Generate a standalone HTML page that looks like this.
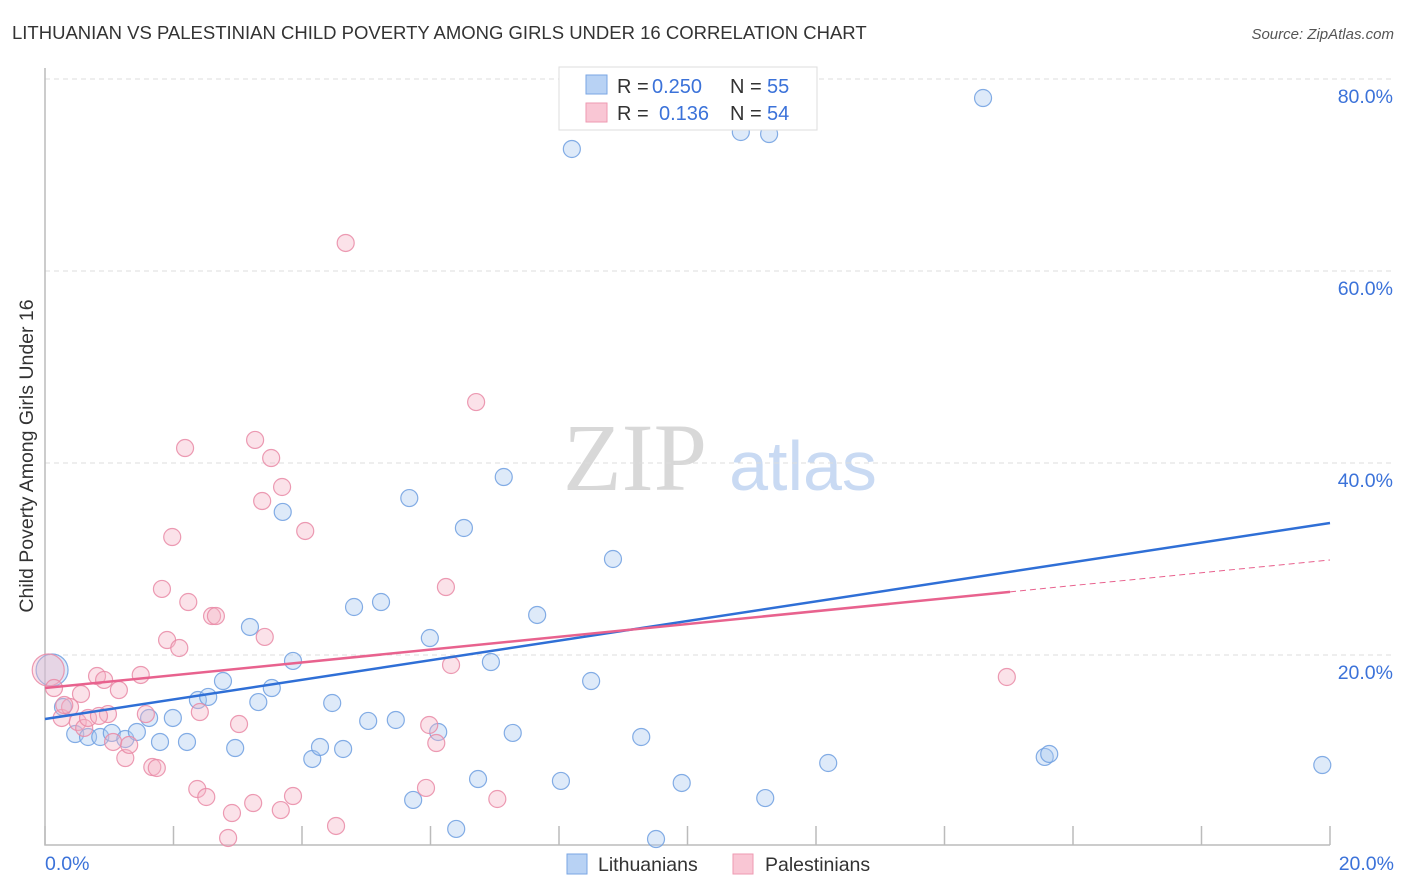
<!DOCTYPE html>
<html><head><meta charset="utf-8"><style>
body{margin:0;background:#fff;font-family:"Liberation Sans",sans-serif;}
svg{display:block}
</style></head><body>
<svg id="chart" width="1406" height="892" xmlns="http://www.w3.org/2000/svg">
<text x="12" y="39" font-size="18.5" fill="#333">LITHUANIAN VS PALESTINIAN CHILD POVERTY AMONG GIRLS UNDER 16 CORRELATION CHART</text>
<text x="1394" y="39" font-size="15" fill="#555" font-style="italic" text-anchor="end">Source: ZipAtlas.com</text>
<g>
<text x="635" y="490" font-size="96" font-family="Liberation Serif,serif" fill="#d8d8d8" text-anchor="middle">ZIP</text>
<text x="803" y="490" font-size="70" fill="#c9daf3" text-anchor="middle">atlas</text>
</g>
<g id="grid"></g>
<g id="axes"></g>
<text transform="translate(33,456) rotate(-90)" font-size="19.5" fill="#333" text-anchor="middle">Child Poverty Among Girls Under 16</text>
<g id="marks"></g>
<g id="trends"></g>
<g>
<rect x="559" y="67" width="258" height="63" fill="#fff" stroke="#ddd"/>
<rect x="586" y="75" width="21" height="19" fill="#b8d2f4" stroke="#7aa6e3"/>
<text x="617" y="93" font-size="20" fill="#333">R =</text>
<text x="652" y="93" font-size="20" fill="#3b72d9">0.250</text>
<text x="730" y="93" font-size="20" fill="#333">N =</text>
<text x="767" y="93" font-size="20" fill="#3b72d9">55</text>
<rect x="586" y="103" width="21" height="19" fill="#f9c6d4" stroke="#ee9ab2"/>
<text x="617" y="120" font-size="20" fill="#333">R =</text>
<text x="659" y="120" font-size="20" fill="#3b72d9">0.136</text>
<text x="730" y="120" font-size="20" fill="#333">N =</text>
<text x="767" y="120" font-size="20" fill="#3b72d9">54</text>
</g>
<g>
<rect x="567" y="854" width="20" height="20" fill="#b8d2f4" stroke="#7aa6e3"/>
<text x="598" y="871" font-size="19.5" fill="#333">Lithuanians</text>
<rect x="733" y="854" width="20" height="20" fill="#f9c6d4" stroke="#ee9ab2"/>
<text x="765" y="871" font-size="19.5" fill="#333">Palestinians</text>
</g>
</svg>
<script>
const blueX=[0.11,0.28,0.47,0.67,0.86,1.04,1.25,1.43,1.62,1.79,1.99,2.21,2.38,2.54,2.77,2.96,3.19,3.32,3.53,3.70,3.86,4.16,4.28,4.47,4.64,4.81,5.03,5.23,5.46,5.67,5.73,5.99,6.12,6.40,6.52,6.74,6.94,7.14,7.28,7.66,8.03,8.20,8.50,8.84,9.28,9.51,9.91,10.83,11.21,11.27,12.19,14.60,15.56,15.63,19.88];
const blueY=[18.44,14.58,11.77,11.46,11.46,11.88,11.25,11.98,13.44,10.94,13.44,10.94,15.31,15.63,17.29,10.31,22.92,15.10,16.56,34.90,19.38,9.17,10.42,15.00,10.21,25.00,13.13,25.52,13.23,36.35,4.90,21.77,11.98,1.88,33.23,7.08,19.27,38.54,11.88,24.17,6.88,72.71,17.29,30.00,11.46,0.83,6.67,74.48,5.10,74.27,8.75,78.02,9.38,9.69,8.54];
const pinkX=[0.05,0.14,0.26,0.39,0.51,0.61,0.81,0.92,0.56,0.67,0.98,1.06,1.15,1.25,1.31,1.49,1.57,1.67,1.74,1.82,1.90,1.98,2.09,2.18,2.23,2.37,2.41,2.51,2.60,2.66,2.91,2.85,3.02,3.24,3.27,3.38,3.42,3.52,3.67,3.69,3.86,4.05,4.53,4.68,5.93,5.98,6.09,6.24,6.32,6.71,7.04,14.97,0.84,0.30];
const pinkY=[18.44,16.56,13.44,14.58,13.02,12.40,17.81,17.40,15.94,13.44,13.85,10.94,16.35,9.27,10.63,17.92,13.85,8.33,8.23,26.88,21.56,32.29,20.73,41.56,25.52,6.04,14.06,5.21,24.06,24.06,3.54,0.94,12.81,4.58,42.40,36.04,21.88,40.52,3.85,37.50,5.31,32.92,2.19,62.92,6.15,12.71,10.83,27.08,18.96,46.35,5.00,17.71,13.65,14.79];
const blueTrend=[13.33,33.75];
const pinkTrend=[16.56,29.9];
const pinkSolidEnd=15.02;
const yTicks=[20,40,60,80];
const xTickLabels=["0.0%","20.0%"];
const NS="http://www.w3.org/2000/svg";
const sx=v=>45+v*64.25, sy=v=>847-v*9.6;
function mk(tag,attrs,parent){const e=document.createElementNS(NS,tag);for(const k in attrs)e.setAttribute(k,attrs[k]);parent.appendChild(e);return e;}
const grid=document.getElementById('grid'),axes=document.getElementById('axes'),marks=document.getElementById('marks'),trends=document.getElementById('trends');
yTicks.forEach(t=>{
 const l=mk('line',{x1:45,x2:1394,y1:sy(t),y2:sy(t),stroke:'#ddd','stroke-dasharray':'5,4'},grid);
 
 
 const tx=mk('text',{x:1393,y:sy(t)+24,'font-size':19.5,fill:'#3b72d9','text-anchor':'end'},grid);
 tx.textContent=t.toFixed(1)+'%';
 
 
});
const ax=mk('path',{d:'M45,68 V845 H1330',fill:'none',stroke:'#bbb','stroke-width':1.5},axes);


for(let i=0;i<=10;i++){const t=mk('line',{x1:sx(i*2),x2:sx(i*2),y1:826,y2:845,stroke:'#bbb','stroke-width':1.5},axes);
 
 }
const xl0=mk('text',{x:45,y:870,'font-size':19.5,fill:'#3b72d9'},axes);xl0.textContent=xTickLabels[0];


const xl1=mk('text',{x:1394,y:870,'font-size':19.5,fill:'#3b72d9','text-anchor':'end'},axes);xl1.textContent=xTickLabels[1];


function pts(X,Y,fill,stroke,name){X.forEach((x,i)=>{const big=i===0;
 const c=mk('circle',{cx:sx(x),cy:sy(Y[i]),r:big?16:8.5,fill:fill,'fill-opacity':0.38,stroke:stroke,'stroke-opacity':0.85,'stroke-width':1.2},marks);
 
 });}
pts(blueX,blueY,'#a9c8f0','#6f9fe0','lithuanian-point');
pts(pinkX,pinkY,'#f5b3c6','#e98aa6','palestinian-point');
const bl=mk('line',{x1:sx(0),y1:sy(blueTrend[0]),x2:sx(20),y2:sy(blueTrend[1]),stroke:'#2f6fd6','stroke-width':2.5},trends);


const pAt=x=>pinkTrend[0]+(pinkTrend[1]-pinkTrend[0])*x/20;
const pl=mk('line',{x1:sx(0),y1:sy(pinkTrend[0]),x2:sx(pinkSolidEnd),y2:sy(pAt(pinkSolidEnd)),stroke:'#e8628e','stroke-width':2.5},trends);


const pd=mk('line',{x1:sx(pinkSolidEnd),y1:sy(pAt(pinkSolidEnd)),x2:sx(20),y2:sy(pinkTrend[1]),stroke:'#e8628e','stroke-width':1,'stroke-dasharray':'6,4'},trends);


</script>
</body></html>
